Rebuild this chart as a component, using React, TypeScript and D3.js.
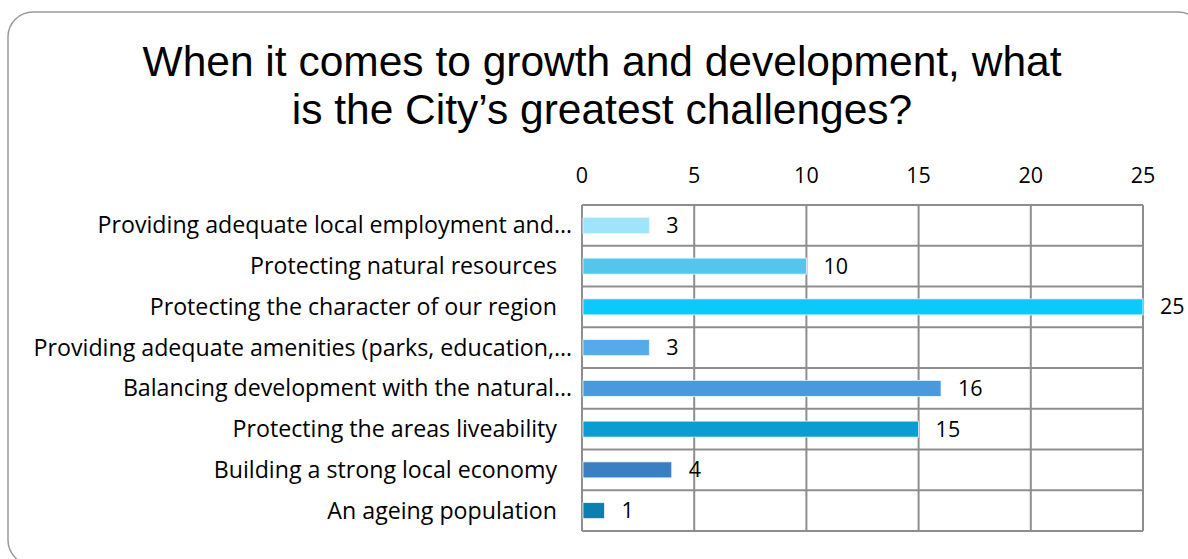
import React from "react";
import * as d3 from "d3";

const categories = [
  "Providing adequate local employment and…",
  "Protecting natural resources",
  "Protecting the character of our region",
  "Providing adequate amenities (parks, education,…",
  "Balancing development with the natural…",
  "Protecting the areas liveability",
  "Building a strong local economy",
  "An ageing population",
];
const values = [3, 10, 25, 3, 16, 15, 4, 1];
const barColors = ["#9fe4fb", "#55c5ec", "#0bc9fa", "#55aaea", "#4a99de", "#0a9ed0", "#3b7fc3", "#0b80af"];
const tickValues = [0, 5, 10, 15, 20, 25];
const titleLines = ["When it comes to growth and development, what", "is the City\u2019s greatest challenges?"];

export default function App() {
  const W = 1188, H = 559;
  const left = 582, right = 1143, top = 205, bottom = 531;
  const x = d3.scaleLinear().domain([0, 25]).range([left, right]);
  const y = d3.scaleBand<string>().domain(categories).range([top, bottom]).paddingInner(0).paddingOuter(0);
  const bw = y.bandwidth();
  const barH = 16;
  const labelFont = "'Open Sans', 'Noto Sans', sans-serif";
  const grid = "#8e8e8e";
  return (
    <svg width={W} height={H} style={{ position: "absolute", left: 0, top: 0 }}>
      <rect x={0} y={0} width={W} height={H} fill="#fff" />
      <rect x={8} y={12} width={1195} height={553} rx={25} ry={25} fill="#fff" stroke="#9a9a9a" strokeWidth={1.5} />
      {titleLines.map((t, i) => (
        <text key={i} x={602} y={76 + i * 48} textAnchor="middle" fontFamily="'Liberation Sans', Arial, sans-serif" fontSize={42.5} fill="#000">
          {t}
        </text>
      ))}
      {tickValues.map((t) => (
        <text key={"t" + t} x={x(t)} y={183} textAnchor="middle" fontFamily={labelFont} fontSize={21.5} fill="#000">
          {t}
        </text>
      ))}
      {tickValues.map((t) => (
        <line key={"v" + t} x1={x(t)} x2={x(t)} y1={top} y2={bottom} stroke={grid} strokeWidth={2} />
      ))}
      {d3.range(categories.length + 1).map((i) => (
        <line key={"h" + i} x1={left} x2={right} y1={top + i * bw} y2={top + i * bw} stroke={grid} strokeWidth={2} />
      ))}
      {categories.map((c, i) => {
        const yc = (y(c) as number) + bw / 2;
        const truncated = c.endsWith("…");
        return (
          <g key={c}>
            <rect x={x(0) + 1} y={yc - barH / 2} width={x(values[i]) - x(0) - 1} height={barH} fill={barColors[i]} stroke="#e6f6fd" strokeWidth={0.8} />
            <text x={x(values[i]) + 17} y={yc + 7.5} fontFamily={labelFont} fontSize={21.5} fill="#000">
              {values[i]}
            </text>
            <text x={truncated ? 572 : 557} y={yc + 8} textAnchor="end" fontFamily={labelFont} fontSize={23.2} fill="#000">
              {c}
            </text>
          </g>
        );
      })}
    </svg>
  );
}
